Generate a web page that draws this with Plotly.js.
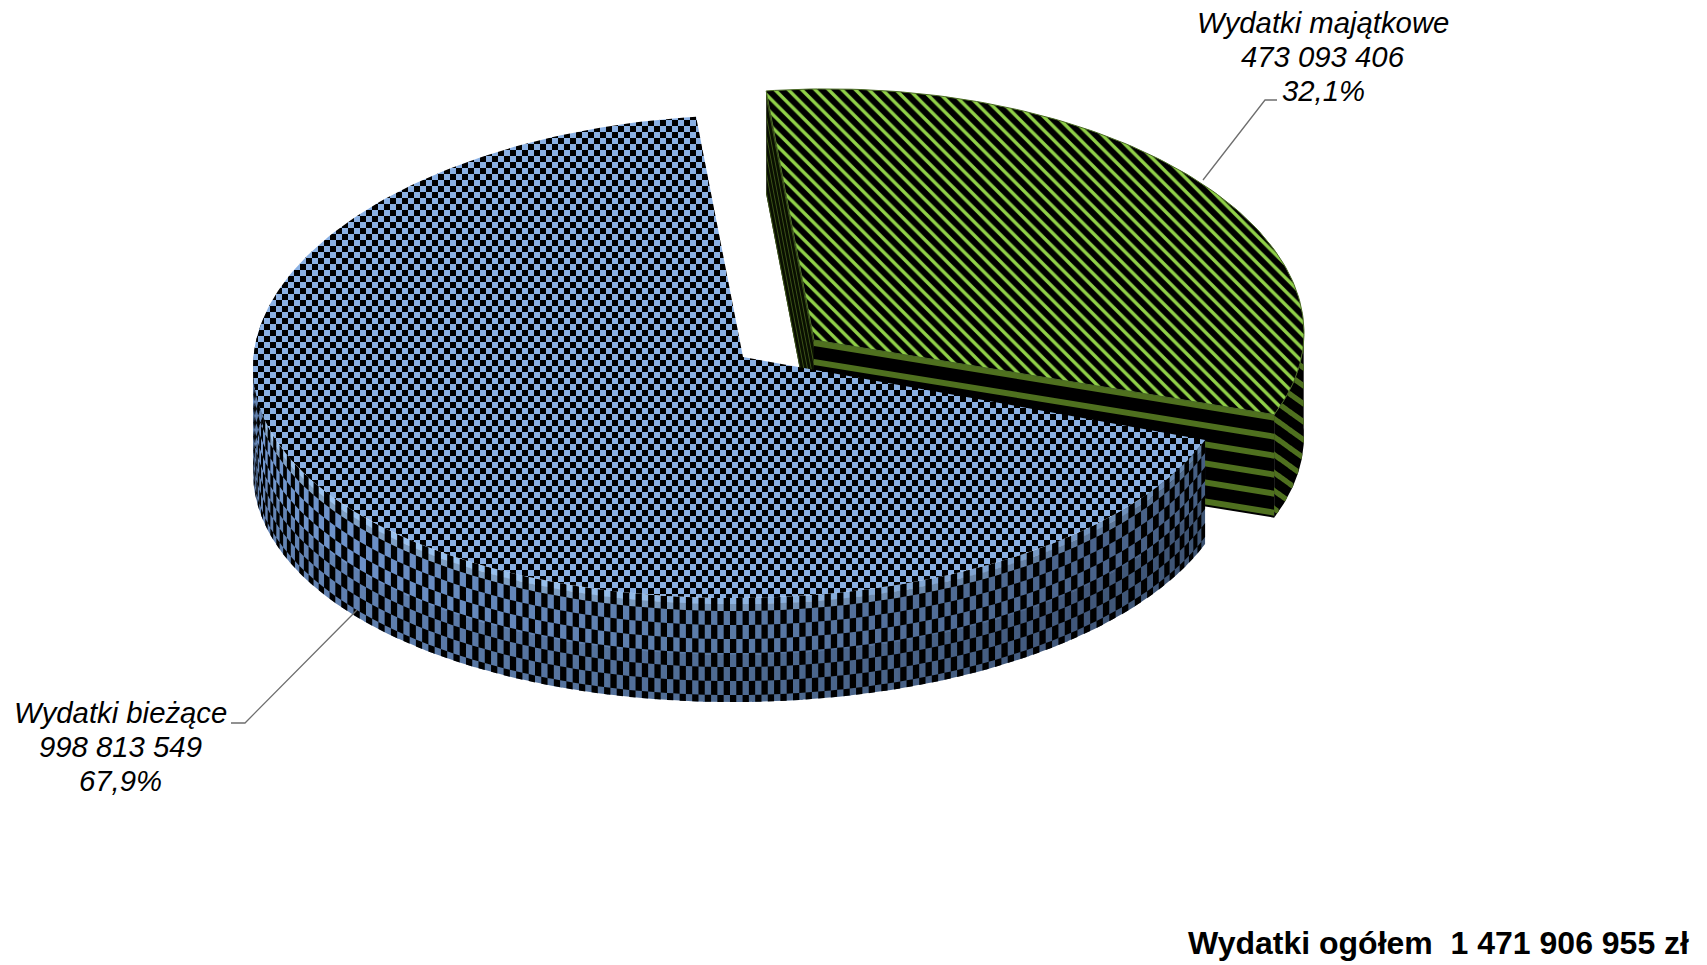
<!DOCTYPE html>
<html><head><meta charset="utf-8">
<script src="https://cdn.plot.ly/plotly-3.0.1.min.js"></script>
<style>html,body{margin:0;padding:0;background:#fff}#c{width:1707px;height:965px}</style></head>
<body><div id="c"></div>
<script>
const categories = ['Wydatki majątkowe', 'Wydatki bieżące'];
const values = [473093406, 998813549];
const valueLabels = ['473 093 406', '998 813 549'];
const percentLabels = ['32,1%', '67,9%'];
const totalLabel = 'Wydatki ogółem  1 471 906 955 zł';

const START = -5.6, H = 103, HB = 104;
const sum = values[0] + values[1];
const sweep = values.map(v => v / sum * 360);
const G = {cx:814, cy:340, a:490, b:240, c:-11, t:-7, u:0};
const B = {cx:744, cy:357, a:491, b:241.5, c:-0.5, t:-5.3, u:5.6};
const rad = d => d * Math.PI / 180;
const P = (s, phi, z=0) => {
  const X = Math.sin(rad(phi)), Y = -Math.cos(rad(phi));
  return [s.cx + s.a*X, s.cy + s.b*Y + s.c*Y*Y + s.t*X + s.u*X*X + z];
};
const traces = [];
function poly(pts, color, extra){
  traces.push(Object.assign({type:'scatter', mode:'lines', x:pts.map(p=>p&&p[0]), y:pts.map(p=>p&&p[1]),
    fill:'toself', fillcolor:color, line:{width:0}, hoverinfo:'skip', showlegend:false}, extra||{}));
}
function multi(quads, color){
  const pts=[]; quads.forEach(q=>{pts.push(...q, q[0], null)});
  poly(pts, color);
}
function quadWall(s, p0, p1, z0, z1){
  return [P(s,p0,z0),P(s,p1,z0),P(s,p1,z1),P(s,p0,z1)];
}
function arcBand(s,p0,p1,z0,z1){
  const pts=[]; for(let p=p0;p<p1;p+=0.5) pts.push(P(s,p,z0));
  pts.push(P(s,p1,z0),P(s,p1,z1));
  for(let p=p1;p>p0;p-=0.5) pts.push(P(s,p,z1));
  pts.push(P(s,p0,z1)); return pts;
}
function lerpColor(stops, v, k=1){
  let c=stops[stops.length-1][1];
  for(let i=0;i<stops.length-1;i++){
    if(v<=stops[i+1][0]){
      const f=Math.max(0,(v-stops[i][0])/(stops[i+1][0]-stops[i][0]));
      c=stops[i][1].map((x,j)=>x+(stops[i+1][1][j]-x)*f);
      break;
    }
  }
  return `rgb(${c.map(x=>Math.min(255,Math.round(x*k))).join(',')})`;
}

/* ---------- green slice (drawn first, exploded) ---------- */
const g0 = START, g1 = START + sweep[0];
const OLIVE = '#4f701f';
{
  const a=P(G,g0), c=[G.cx,G.cy];
  poly([a,c,[c[0],c[1]+H],[a[0],a[1]+H]], '#0a0f02');
  const qs=[];
  for(let z=3;z<H;z+=19){ qs.push([[a[0],a[1]+z],[c[0],c[1]+z],[c[0],c[1]+z+5],[a[0],a[1]+z+5]]); }
  multi(qs,'#3c5518');
}
{
  const c=[G.cx,G.cy], e=P(G,g1);
  poly([c,e,[e[0],e[1]+H],[c[0],c[1]+H]], '#000000');
  const qs=[];
  for(let z=0;z<H;z+=19){ qs.push([[c[0],c[1]+z],[e[0],e[1]+z],[e[0],e[1]+z+6],[c[0],c[1]+z+6]]); }
  multi(qs,OLIVE);
}
{
  poly(arcBand(G,88,g1,0,H),'#000000');
  const qs=[], step=0.5, m=0.72;
  const base=q=>{const t=P(G,q); return m*t[0]-t[1];};
  for(let off=-700;off<-380;off+=18){
    for(let p=88;p<g1;p+=step){
      const q=Math.min(g1,p+step);
      const lo=v=>Math.min(H,Math.max(0,v));
      const za=off+base(p), zb=off+base(q);
      const z0a=lo(za), z1a=lo(za+6.5), z0b=lo(zb), z1b=lo(zb+6.5);
      if(z1a-z0a<=0.01 || z1b-z0b<=0.01) continue;
      qs.push([P(G,p,z0a),P(G,q,z0b),P(G,q,z1b),P(G,p,z1a)]);
    }
  }
  multi(qs,OLIVE);
}
{
  const pts=[[G.cx,G.cy]]; for(let p=g0;p<=g1;p+=1) pts.push(P(G,p)); pts.push(P(G,g1),[G.cx,G.cy]);
  poly(pts,'#000000',{line:{width:1,color:'#4a6a24'},
    fillpattern:{shape:'\\',size:9.5,solidity:0.36,fgcolor:'#90d048',bgcolor:'#000000'}});
}

/* ---------- blue slice ---------- */
const b0 = START + sweep[0], b1 = START + 360;
const wallStops=[[110,[70,95,130]],[140,[74,100,140]],[180,[88,120,164]],[225,[106,142,196]],[285,[122,160,216]]];
const rimStops=[[110,[95,125,165]],[150,[125,160,205]],[200,[150,190,235]],[285,[160,200,245]]];
const W0=b0, W1=282, RIM=13, CELLX=6.3, CELLH=14;
{
  const SEC=30, sec=(W1-W0)/SEC;
  for(let i=0;i<SEC;i++){
    const p0=W0+i*sec, p1=Math.min(W1,p0+sec+0.2), mid=p0+sec/2;
    poly(arcBand(B,p0,p1,RIM-0.5,HB*0.55),lerpColor(wallStops,mid));
    poly(arcBand(B,p0,p1,HB*0.55-0.5,HB),lerpColor(wallStops,mid,0.88));
    poly(arcBand(B,p0,p1,0,RIM*0.5),lerpColor(rimStops,mid));
    poly(arcBand(B,p0,p1,RIM*0.5-0.3,RIM),lerpColor(rimStops,mid,0.82));
  }
}
{
  const qs=[]; let i=0;
  for(let p0=W0;p0<W1;i++){
    const d=CELLX/(B.a*Math.max(Math.abs(Math.cos(rad(p0))),0.6))*180/Math.PI;
    const p1=Math.min(W1,p0+d);
    if(i%2===0) qs.push(quadWall(B,p0,p1,0,RIM));
    let row=0;
    for(let z=RIM;z<HB;z+=CELLH,row++){
      if((i+row)%2===1) qs.push(quadWall(B,p0,p1,z,Math.min(HB,z+CELLH)));
    }
    p0=p1;
  }
  multi(qs,'#000000');
}
{
  const pts=[[743,357]]; for(let p=b0;p<=b1;p+=1) pts.push(P(B,p)); pts.push(P(B,b1),[743,357]);
  poly(pts,'#8ab0e3',{fillpattern:{shape:'+',size:12,solidity:0.5,fgcolor:'#000000',bgcolor:'#8ab0e3'}});
}

const labelFont={family:'Liberation Sans, Arial, sans-serif',size:29.3,style:'italic',color:'#000'};
const label=(text,x,y)=>({xref:'x',yref:'y',x,y,showarrow:false,align:'center',text,font:labelFont});
const layout = {
  width:1707, height:965, margin:{l:0,r:0,t:0,b:0}, paper_bgcolor:'#fff', plot_bgcolor:'#fff', showlegend:false,
  xaxis:{range:[0,1707],visible:false,fixedrange:true},
  yaxis:{range:[965,0],visible:false,fixedrange:true},
  shapes:[
    {type:'path',xref:'x',yref:'y',path:'M1203,180 L1265,100 L1277,100',line:{color:'#6e6e6e',width:1.3}},
    {type:'path',xref:'x',yref:'y',path:'M357,610 L245,723 L231,723',line:{color:'#6e6e6e',width:1.3}}
  ],
  annotations:[
    label(categories[0],1323,22),label(valueLabels[0],1323,56),label(percentLabels[0],1323,90),
    label(categories[1],120,712),label(valueLabels[1],120,746),label(percentLabels[1],120,780),
    {xref:'x',yref:'y',x:1691,y:943,xanchor:'right',showarrow:false,text:'<b>'+totalLabel.replace(/  /,'&nbsp; ')+'</b>',
     font:{family:'Liberation Sans, Arial, sans-serif',size:32,color:'#000'}}
  ]
};
Plotly.newPlot('c',traces,layout,{staticPlot:true,displayModeBar:false}).then(gd=>{
  gd.querySelectorAll('pattern').forEach(pt=>{
    if(Math.abs(parseFloat(pt.getAttribute('width'))-12)<0.01){
      const ns='http://www.w3.org/2000/svg';
      Array.from(pt.children).filter(c=>c.tagName.toLowerCase()!=='rect').forEach(c=>c.remove());
      const p=document.createElementNS(ns,'path');
      p.setAttribute('d','M0 0h6v6h-6zM6 6h6v6h-6z');
      p.setAttribute('fill','#000');
      pt.appendChild(p);
    }
  });
});
</script></body></html>
